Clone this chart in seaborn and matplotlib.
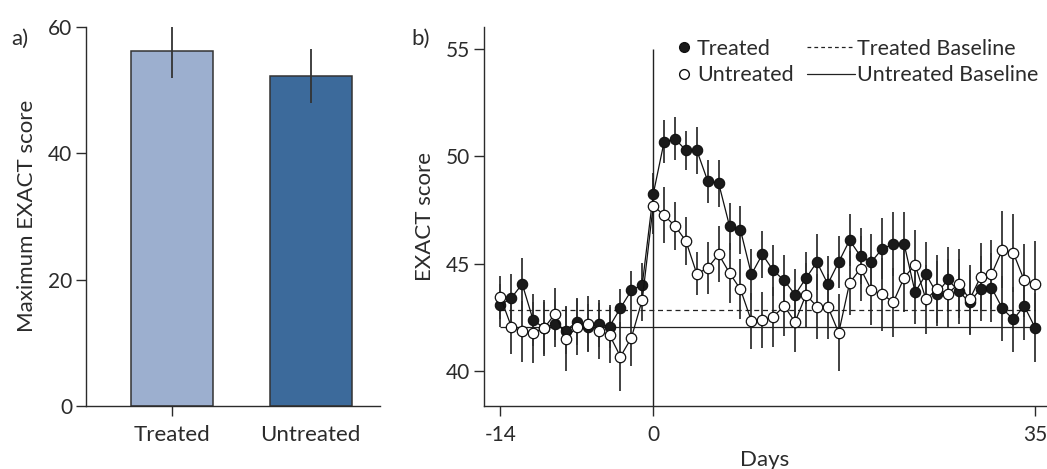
import matplotlib
matplotlib.use("Agg")
import matplotlib.pyplot as plt
from matplotlib.lines import Line2D
import seaborn as sns

# panel a
groups = ["Treated", "Untreated"]
max_scores = [56.2, 52.2]
max_err = [4.35, 4.2]

# panel b
days = list(range(-14, 36))
treated = [43.06, 43.40, 44.05, 42.37, 42.00, 42.20, 41.88, 42.29, 42.04, 42.20, 42.07, 42.93, 43.75, 44.02,
           48.22, 50.67, 50.81, 50.27, 50.27, 48.84, 48.74, 46.74, 46.56, 44.50, 45.43, 44.68, 44.22, 43.55,
           44.32, 45.07, 44.05, 45.07,
           46.09, 45.34, 45.08, 45.70, 45.90, 45.90, 43.67, 44.50, 43.60, 44.26, 43.71, 43.19, 43.84, 43.88,
           42.91, 42.40, 43.03, 42.01]
untreated = [43.44, 42.07, 41.84, 41.79, 41.99, 42.66, 41.51, 42.04, 42.20, 41.88, 41.68, 40.67, 41.54, 43.32,
             47.70, 47.25, 46.75, 46.05, 44.52, 44.80, 45.43, 44.56, 43.80, 42.33, 42.38, 42.52, 43.03, 42.28,
             43.55, 43.00, 43.00, 41.78,
             44.10, 44.77, 43.76, 43.57, 43.20, 44.35, 44.95, 43.33, 43.82, 43.60, 44.07, 43.33, 44.38, 44.50,
             45.65, 45.50, 44.22, 44.07]
treated_err = [1.0, 1.1, 1.2, 1.2, 1.2, 1.1, 1.1, 1.1, 1.1, 1.1, 1.0, 0.9, 0.9, 1.0,
               1.0, 1.0, 1.0, 0.9, 1.1, 1.0, 1.1, 1.1, 1.1, 1.2, 1.1, 1.2, 1.2, 1.2, 1.2, 1.3, 1.3, 1.2,
               1.2, 1.3, 1.3, 1.4, 1.5, 1.5, 1.5, 1.5, 1.5, 1.5, 1.5, 1.5, 1.5, 1.6, 1.5, 1.5, 1.6, 1.6]
untreated_err = [1.0, 1.3, 1.4, 1.4, 1.3, 1.2, 1.5, 1.3, 1.3, 1.3, 1.3, 1.6, 1.3, 1.0,
                 1.3, 1.3, 1.1, 1.1, 1.0, 1.2, 1.3, 1.4, 1.4, 1.3, 1.3, 1.4, 1.4, 1.4, 1.5, 1.5, 1.5, 1.8,
                 1.5, 1.5, 1.6, 1.7, 1.6, 1.6, 1.6, 1.6, 1.6, 1.6, 1.6, 1.6, 1.6, 1.6, 1.8, 1.8, 1.7, 2.0]
treated_baseline = 42.85
untreated_baseline = 42.05

sns.set_style("ticks")
plt.rcParams['font.family'] = ['Lato', 'DejaVu Sans']
plt.rcParams['axes.unicode_minus'] = False
ink = '#2b2b2b'
plt.rcParams['text.color'] = ink
plt.rcParams['axes.labelcolor'] = ink
plt.rcParams['xtick.color'] = ink
plt.rcParams['ytick.color'] = ink
plt.rcParams['axes.edgecolor'] = ink

fig = plt.figure(figsize=(10.47, 4.69), dpi=100)
ax1 = fig.add_axes([0.0821, 0.1343, 0.2808, 0.8087])
ax2 = fig.add_axes([0.4623, 0.1343, 0.5368, 0.8075])

# ---- panel a
sns.barplot(x=groups, y=max_scores, hue=groups, palette=['#9cafcf', '#3c6a9b'], saturation=1,
            errorbar=None, width=0.59, edgecolor='#333333', linewidth=1.1, legend=False, ax=ax1)
ax1.errorbar(x=[0, 1], y=max_scores, yerr=max_err, fmt='none', ecolor='#333333', elinewidth=1.3, capsize=0)
ax1.set_xlim(-0.62, 1.5)
ax1.set_ylim(0, 60)
ax1.set_yticks([0, 20, 40, 60])
ax1.set_ylabel('Maximum EXACT score', fontsize=16, labelpad=8)
ax1.tick_params(axis='y', labelsize=15, length=7, width=1, pad=3)
ax1.tick_params(axis='x', labelsize=16, length=7, width=1, pad=7)
ax1.xaxis.get_major_ticks()[1].tick1line.set_visible(False)
sns.despine(ax=ax1)
ax1.spines['left'].set_linewidth(1)
ax1.spines['bottom'].set_linewidth(1)
fig.text(0.011, 0.905, 'a)', fontsize=16)

# ---- panel b
ax2.errorbar(days, treated, yerr=treated_err, fmt='none', ecolor='#333333', elinewidth=1.3, zorder=1)
ax2.errorbar(days, untreated, yerr=untreated_err, fmt='none', ecolor='#333333', elinewidth=1.3, zorder=1)
ax2.hlines(treated_baseline, -14, 35, colors='#222222', linestyles=(0, (4, 3)), linewidth=0.9, zorder=1.5)
ax2.hlines(untreated_baseline, -14, 35, colors='#222222', linewidth=0.9, zorder=1.5)
ax2.vlines(0, 38.37, 55, colors='#222222', linewidth=1.0, zorder=1.5)
sns.lineplot(x=days, y=treated, color='#111111', linewidth=0.9, marker='o', markersize=7.5,
             markerfacecolor='#1a1a1a', markeredgecolor='#111111', markeredgewidth=0.8, ax=ax2, zorder=3)
sns.lineplot(x=days, y=untreated, color='#111111', linewidth=0.9, marker='o', markersize=7.5,
             markerfacecolor='white', markeredgecolor='#111111', markeredgewidth=0.9, ax=ax2, zorder=4)
ax2.set_xlim(-15.5, 36)
ax2.set_ylim(38.37, 56)
ax2.set_xticks([-14, 0, 35])
ax2.set_yticks([40, 45, 50, 55])
ax2.set_xlabel('Days', fontsize=16, labelpad=3)
ax2.set_ylabel('EXACT score', fontsize=16, labelpad=8)
ax2.tick_params(axis='both', labelsize=15, length=7, width=1)
ax2.tick_params(axis='x', pad=7)
ax2.tick_params(axis='y', pad=3)
sns.despine(ax=ax2)
ax2.spines['left'].set_linewidth(1)
ax2.spines['bottom'].set_linewidth(1)
fig.text(0.393, 0.905, 'b)', fontsize=16)

h1 = [Line2D([], [], linestyle='none', marker='o', markersize=7, markerfacecolor='#1a1a1a', markeredgecolor='#111111'),
      Line2D([], [], linestyle='none', marker='o', markersize=7, markerfacecolor='white', markeredgecolor='#111111')]
leg1 = ax2.legend(h1, ['Treated', 'Untreated'], loc='upper left', bbox_to_anchor=(0.647, 0.917),
                  bbox_transform=fig.transFigure, frameon=False, fontsize=15.5, handlelength=0.6,
                  handletextpad=0.3, labelspacing=0.3, borderpad=0, borderaxespad=0)
ax2.add_artist(leg1)
h2 = [Line2D([], [], color='#222222', linestyle=(0, (3, 2.5)), linewidth=0.9),
      Line2D([], [], color='#222222', linewidth=0.9)]
ax2.legend(h2, ['Treated Baseline', 'Untreated Baseline'], loc='upper left', bbox_to_anchor=(0.771, 0.917),
           bbox_transform=fig.transFigure, frameon=False, fontsize=15.5, handlelength=2.2,
           handletextpad=0.1, labelspacing=0.3, borderpad=0, borderaxespad=0)

fig.savefig('out.png', dpi=100)
